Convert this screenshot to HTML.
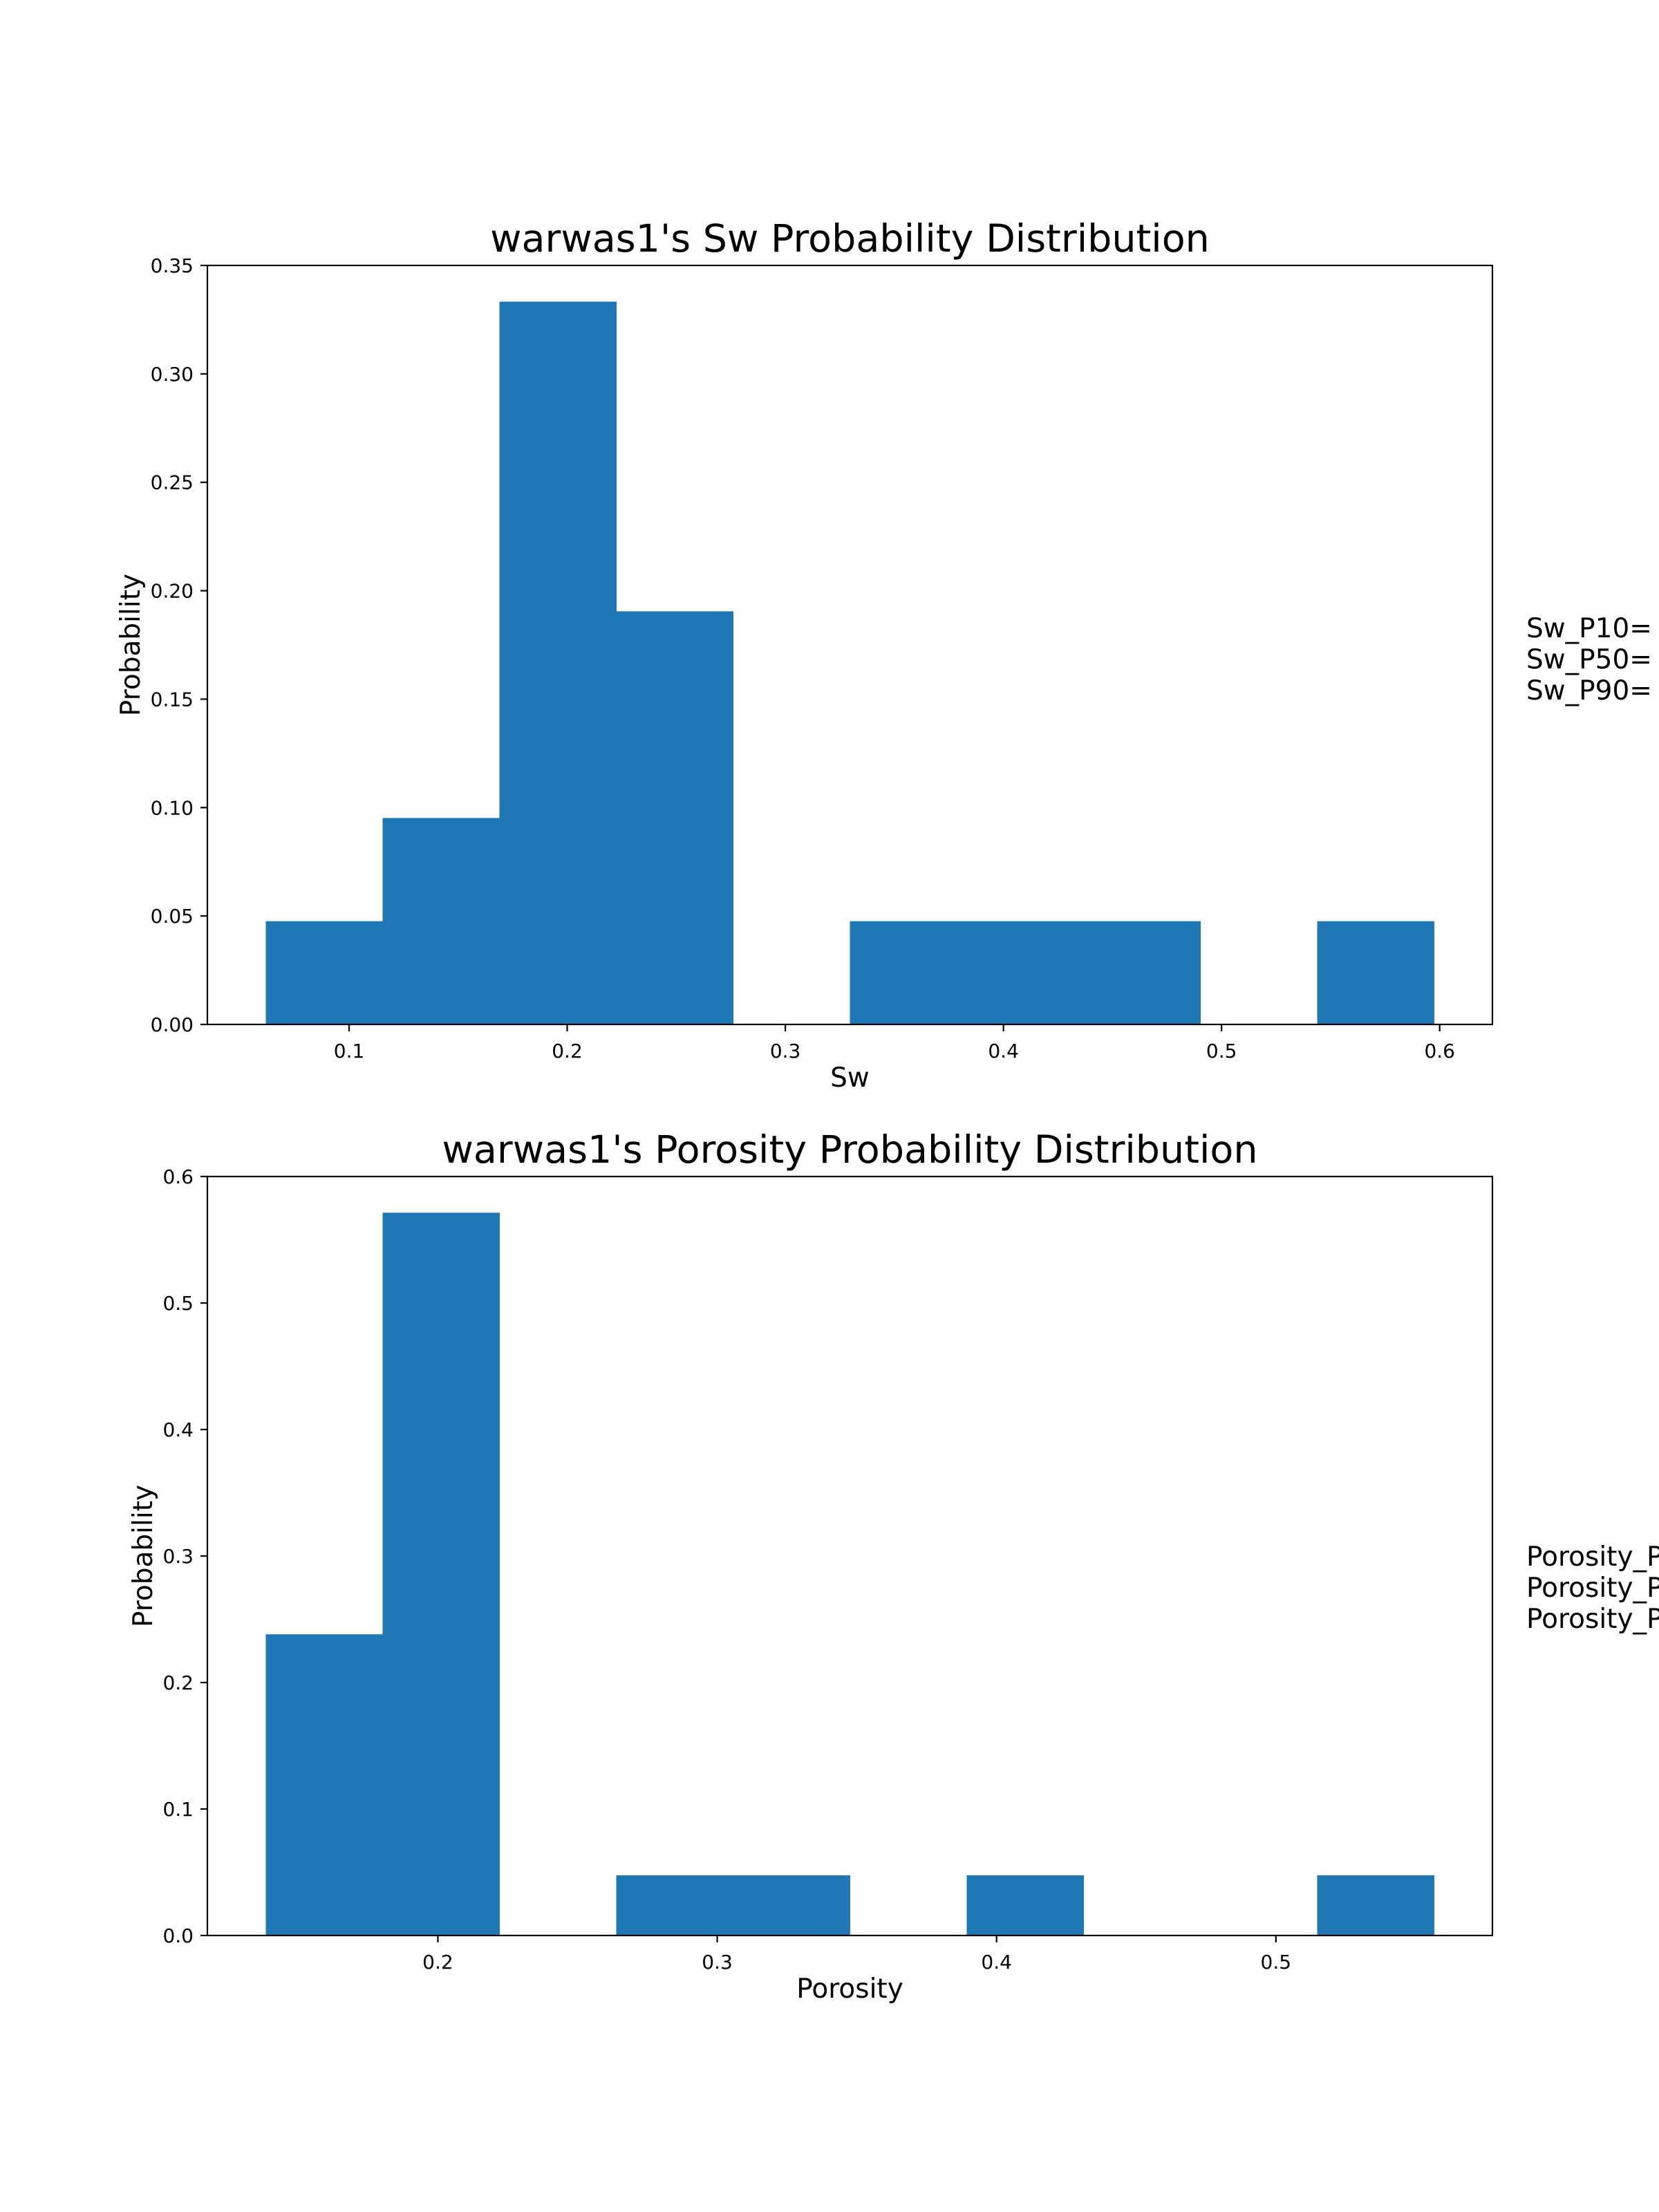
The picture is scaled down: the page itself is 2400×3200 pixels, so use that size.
<!DOCTYPE html>
<html><head><meta charset="utf-8"><style>
html,body{margin:0;padding:0;background:#fff;}
svg{display:block;font-family:"DejaVu Sans","Liberation Sans",sans-serif;}
</style></head><body>
<svg id="fig" width="2400" height="3200" viewBox="0 0 2400 3200" xmlns="http://www.w3.org/2000/svg">
<rect width="2400" height="3200" fill="#fff"/>
</svg>
<script>
const swBinMin = 0.0618, swBinMax = 0.5974;
const swHeights = [0.0476, 0.0952, 0.3333, 0.1905, 0, 0.0476, 0.0476, 0.0476, 0, 0.0476];
const swXTicks = [0.1, 0.2, 0.3, 0.4, 0.5, 0.6];
const swXTickLabels = ["0.1","0.2","0.3","0.4","0.5","0.6"];
const swYTicks = [0, 0.05, 0.10, 0.15, 0.20, 0.25, 0.30, 0.35];
const swYTickLabels = ["0.00","0.05","0.10","0.15","0.20","0.25","0.30","0.35"];
const swStats = ["Sw_P10=", "Sw_P50=", "Sw_P90="];

const poBinMin = 0.1384, poBinMax = 0.5566;
const poHeights = [0.2381, 0.5714, 0, 0.0476, 0.0476, 0, 0.0476, 0, 0, 0.0476];
const poXTicks = [0.2, 0.3, 0.4, 0.5];
const poXTickLabels = ["0.2","0.3","0.4","0.5"];
const poYTicks = [0, 0.1, 0.2, 0.3, 0.4, 0.5, 0.6];
const poYTickLabels = ["0.0","0.1","0.2","0.3","0.4","0.5","0.6"];
const poStats = ["Porosity_P10=", "Porosity_P50=", "Porosity_P90="];

const NS = "http://www.w3.org/2000/svg";
const svg = document.getElementById('fig');
function mk(tag, attrs, parent, text){
  const e = document.createElementNS(NS, tag);
  for (const k in attrs) e.setAttribute(k, attrs[k]);
  if (text !== undefined) e.textContent = text;
  (parent || svg).appendChild(e);
  return e;
}

function drawPanel(o){
  const L = 300, R = 2159, T = o.top, B = o.top + 1098;
  const g = mk('g', {});
  
  
  const range = o.binMax - o.binMin;
  const xmin = o.binMin - 0.05*range, xmax = o.binMax + 0.05*range;
  const x = v => L + (v - xmin)/(xmax - xmin)*(R - L);
  const y = v => B - (v - o.ymin)/(o.ymax - o.ymin)*(B - T);
  const n = o.heights.length, w = range/n;
  o.heights.forEach((h, i) => {
    if (h <= 0) return;
    const x0 = x(o.binMin + i*w), x1 = x(o.binMin + (i+1)*w);
    const r = mk('rect', {x: x0, y: y(h), width: x1 - x0 + 0.5, height: B - y(h), fill: '#1f77b4'}, g);
    
    
  });
  const frame = mk('rect', {x: L, y: T, width: R-L, height: B-T, fill: 'none', stroke: '#000', 'stroke-width': 2.2}, g);
  
  
  o.xticks.forEach((t, i) => {
    const xx = x(t);
    mk('line', {x1: xx, y1: B, x2: xx, y2: B+10, stroke: '#000', 'stroke-width': 2.2}, g);
    const tl = mk('text', {x: xx, y: B+48, 'font-size': 28, 'text-anchor': 'middle'}, g, o.xlabels[i]);
    
    
  });
  o.yticks.forEach((t, i) => {
    const yy = y(t);
    mk('line', {x1: L-10, y1: yy, x2: L, y2: yy, stroke: '#000', 'stroke-width': 2.2}, g);
    const tl = mk('text', {x: 280, y: yy+10, 'font-size': 28, 'text-anchor': 'end'}, g, o.ylabels[i]);
    
    
  });
  const title = mk('text', {x: (L+R)/2, y: T-20, 'font-size': 55.5, 'text-anchor': 'middle'}, g, o.title);
  
  
  const xl = mk('text', {x: (L+R)/2, y: B+90, 'font-size': 39, 'text-anchor': 'middle'}, g, o.xtitle);
  
  
  const yc = (T+B)/2;
  const yl = mk('text', {x: o.ylx, y: yc, 'font-size': 39, 'text-anchor': 'middle', transform: `rotate(-90 ${o.ylx} ${yc})`}, g, 'Probability');
  
  
  o.stats.forEach((s, i) => {
    const st = mk('text', {x: 2208, y: o.statY + i*45, 'font-size': 39}, g, s);
    
    
  });
}

drawPanel({name: 'sw-histogram', top: 384, binMin: swBinMin, binMax: swBinMax, heights: swHeights,
  ymin: 0, ymax: 0.35, xticks: swXTicks, xlabels: swXTickLabels, yticks: swYTicks, ylabels: swYTickLabels,
  title: "warwas1's Sw Probability Distribution", xtitle: 'Sw', ylx: 202, stats: swStats, statY: 922});
drawPanel({name: 'porosity-histogram', top: 1702, binMin: poBinMin, binMax: poBinMax, heights: poHeights,
  ymin: 0, ymax: 0.6, xticks: poXTicks, xlabels: poXTickLabels, yticks: poYTicks, ylabels: poYTickLabels,
  title: "warwas1's Porosity Probability Distribution", xtitle: 'Porosity', ylx: 220, stats: poStats, statY: 2265});
</script>
</body></html>
